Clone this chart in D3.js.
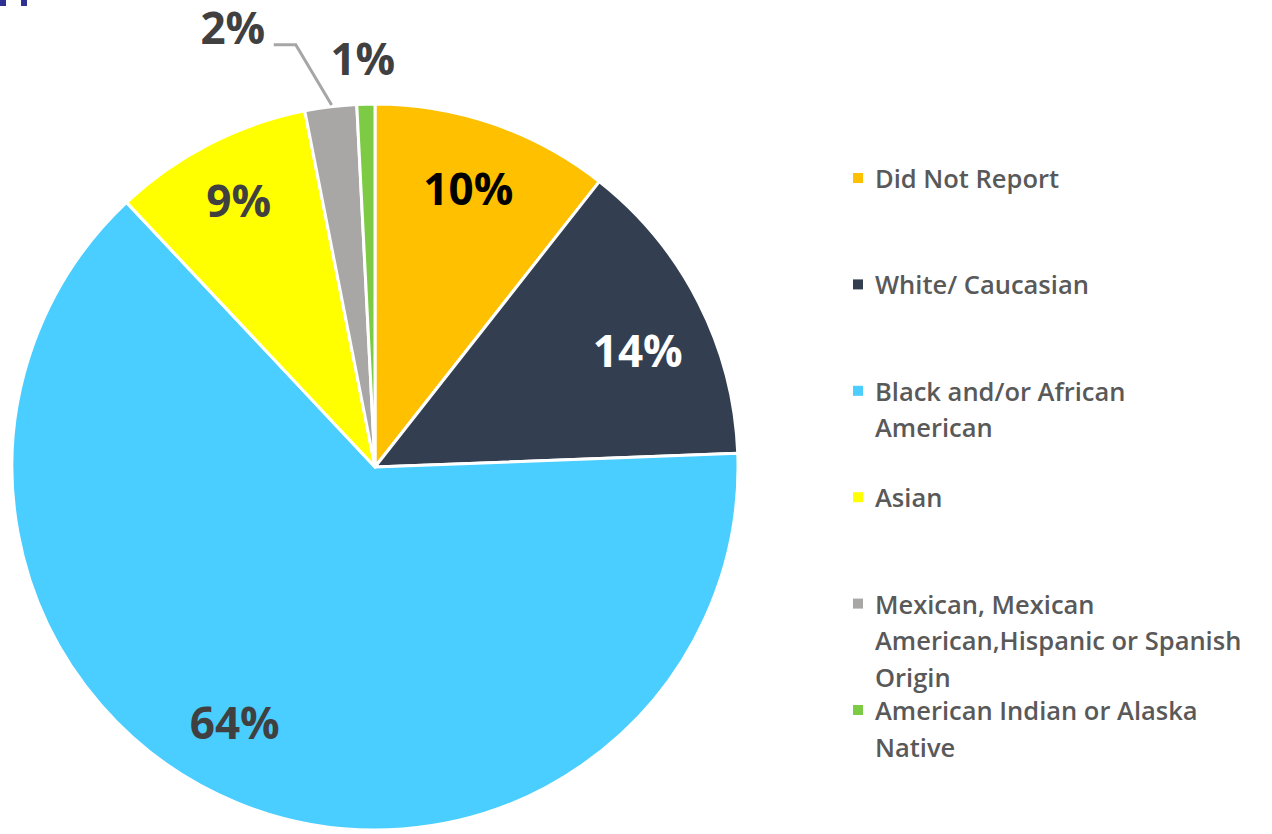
<!DOCTYPE html>
<html lang="en">
<head>
    <meta charset="UTF-8">
    <title>Pie chart</title>
    <script src="https://d3js.org/d3.v7.min.js"></script>
    <style>
        body {
            margin: 0;
            background: #fff;
            overflow: hidden;
        }
        text {
            font-family: "Open Sans", "Noto Sans", sans-serif;
        }
        .pct {
            font-size: 44px;
            font-weight: bold;
        }
        .legend text {
            font-size: 25.5px;
            font-weight: 600;
            fill: #595959;
        }
    </style>
</head>
<body>
    <div id="chart"></div>
    <script>
        // datos
        const categories = [
            "Did Not Report",
            "White/ Caucasian",
            "Black and/or African American",
            "Asian",
            "Mexican, Mexican American,Hispanic or Spanish Origin",
            "American Indian or Alaska Native"
        ];
        const values = [10.6, 13.8, 63.6, 8.9, 2.3, 0.8];
        const labels = ["10%", "14%", "64%", "9%", "2%", "1%"];
        // lineas del texto de la leyenda
        const legendLines = [
            ["Did Not Report"],
            ["White/ Caucasian"],
            ["Black and/or African", "American"],
            ["Asian"],
            ["Mexican, Mexican", "American,Hispanic or Spanish", "Origin"],
            ["American Indian or Alaska", "Native"]
        ];
        const colors = ["#FFC000", "#333F50", "#4ACDFF", "#FFFF00", "#A9A6A6", "#7DCB45"];
        const labelColors = ["#000000", "#FFFFFF", "#404040", "#404040", "#404040", "#404040"];

        const W = 1272, H = 834;
        const cx = 375, cy = 467, radius = 363;

        const svg = d3.select("#chart").append("svg")
            .attr("width", W)
            .attr("height", H);

        // marcas de la esquina (resto de la diapositiva)
        svg.selectAll(".corner").data([0, 21]).join("rect")
            .attr("x", d => d).attr("y", 0)
            .attr("width", 6).attr("height", 6)
            .attr("fill", "#2E3192");

        const pie = d3.pie().sort(null).value(d => d);
        const arcs = pie(values);
        const arc = d3.arc().innerRadius(0).outerRadius(radius);

        const g = svg.append("g")
            .attr("transform", `translate(${cx},${cy})`);

        g.selectAll("path")
            .data(arcs)
            .join("path")
            .attr("d", arc)
            .attr("fill", (d, i) => colors[i])
            .attr("stroke", "#fff")
            .attr("stroke-width", 3)
            .attr("stroke-linejoin", "round");

        // posiciones de etiquetas (fraccion del radio) + ajuste fino en px
        const labelRadius = [0.82, 0.8, 0.8, 0.84, 1.2, 1.12];
        const labelShift = [[-4, 2], [4, 15], [-30, -14], [3, 4], [-89, -8], [-2, -3]];
        const labelArc = i => d3.arc().innerRadius(radius * labelRadius[i]).outerRadius(radius * labelRadius[i]);

        const pos = arcs.map((d, i) => {
            const c = labelArc(i).centroid(d);
            return [c[0] + labelShift[i][0], c[1] + labelShift[i][1]];
        });

        // linea guia del 2%
        const edgePt = [d3.arc().innerRadius(radius).outerRadius(radius).centroid(arcs[4])[0] + 1, -radius + 1];
        g.append("polyline")
            .attr("points", [
                [pos[4][0] + 41, pos[4][1] + 18],
                [pos[4][0] + 63, pos[4][1] + 18],
                edgePt
            ].map(p => p.join(",")).join(" "))
            .attr("fill", "none")
            .attr("stroke", "#A6A6A6")
            .attr("stroke-width", 3);

        g.selectAll(".pct")
            .data(arcs)
            .join("text")
            .attr("class", "pct")
            .attr("x", (d, i) => pos[i][0])
            .attr("y", (d, i) => pos[i][1])
            .attr("text-anchor", "middle")
            .attr("dominant-baseline", "central")
            .attr("fill", (d, i) => labelColors[i])
            .text((d, i) => labels[i]);

        // leyenda
        const legendY = d3.scaleLinear().domain([0, 5]).range([178, 710]);
        const legend = svg.append("g").attr("class", "legend");
        const item = legend.selectAll("g")
            .data(categories)
            .join("g")
            .attr("transform", (d, i) => `translate(853,${legendY(i)})`);

        item.append("rect")
            .attr("x", 0).attr("y", -5)
            .attr("width", 10).attr("height", 10)
            .attr("fill", (d, i) => colors[i]);

        item.each(function(d, i) {
            const t = d3.select(this).append("text")
                .attr("x", 22)
                .attr("y", 0)
                .attr("dominant-baseline", "central");
            legendLines[i].forEach((line, j) => {
                t.append("tspan")
                    .attr("x", 22)
                    .attr("dy", j === 0 ? 0 : 36.5)
                    .text(line);
            });
        });
    </script>
</body>
</html>
